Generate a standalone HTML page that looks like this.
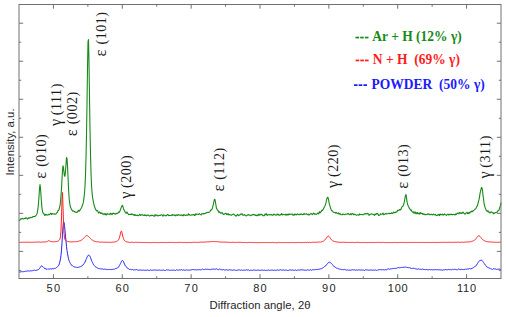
<!DOCTYPE html>
<html><head><meta charset="utf-8"><style>
html,body{margin:0;padding:0;background:#fff;overflow:hidden;}
svg{display:block;}
</style></head><body>
<svg width="506" height="317" viewBox="0 0 506 317">
<rect width="506" height="317" fill="#fff"/>
<g fill="none" stroke-linejoin="round">
<polyline points="19.00,271.88 19.50,272.06 20.00,271.69 20.50,271.91 21.00,271.72 21.50,271.64 22.00,271.98 22.50,271.74 23.00,271.61 23.50,271.68 24.00,271.75 24.50,271.53 25.00,271.55 25.50,271.25 26.00,271.24 26.50,271.20 27.00,271.00 27.50,270.88 28.00,270.80 28.50,270.99 29.00,271.03 29.50,270.99 30.00,271.02 30.50,270.74 31.00,270.85 31.50,270.91 32.00,270.99 32.50,270.68 33.00,270.64 33.50,270.29 34.00,270.42 34.50,270.11 35.00,270.10 35.50,270.50 36.00,269.96 36.50,270.26 37.00,270.17 37.50,269.90 38.00,269.79 38.50,269.54 39.00,269.25 39.50,268.53 40.00,267.77 40.50,267.02 41.00,266.27 41.50,265.98 42.00,265.89 42.50,266.60 43.00,266.77 43.50,267.39 44.00,267.94 44.50,268.15 45.00,269.09 45.50,268.69 46.00,269.01 46.50,269.09 47.00,269.51 47.50,268.97 48.00,269.34 48.50,269.10 49.00,269.10 49.50,268.97 50.00,269.12 50.50,268.84 51.00,268.91 51.50,268.97 52.00,269.21 52.50,268.47 53.00,268.89 53.50,268.85 54.00,268.49 54.50,268.42 55.00,268.15 55.50,268.31 56.00,267.93 56.50,267.53 57.00,267.16 57.50,266.74 58.00,266.23 58.50,265.44 59.00,265.04 59.50,263.23 60.00,260.98 60.50,258.88 61.00,255.26 61.50,250.08 62.00,242.93 62.50,234.37 63.00,226.10 63.50,221.64 64.00,222.16 64.50,225.43 65.00,230.74 65.50,236.11 66.00,241.17 66.50,246.50 67.00,250.53 67.50,253.69 68.00,256.30 68.50,258.74 69.00,260.37 69.50,261.67 70.00,262.69 70.50,263.67 71.00,264.68 71.50,265.06 72.00,265.27 72.50,265.95 73.00,266.25 73.50,266.64 74.00,266.96 74.50,266.92 75.00,267.00 75.50,267.12 76.00,267.02 76.50,267.35 77.00,267.59 77.50,267.46 78.00,267.33 78.50,267.26 79.00,267.10 79.50,266.97 80.00,266.91 80.50,266.68 81.00,266.53 81.50,266.07 82.00,266.03 82.50,265.65 83.00,264.95 83.50,264.08 84.00,263.71 84.50,263.18 85.00,261.98 85.50,260.88 86.00,259.67 86.50,258.65 87.00,257.21 87.50,256.39 88.00,255.43 88.50,255.19 89.00,255.16 89.50,255.62 90.00,256.30 90.50,257.54 91.00,258.91 91.50,260.38 92.00,261.58 92.50,262.50 93.00,263.63 93.50,264.63 94.00,265.21 94.50,265.74 95.00,266.26 95.50,266.92 96.00,267.32 96.50,267.38 97.00,267.81 97.50,267.93 98.00,268.05 98.50,268.56 99.00,268.73 99.50,268.59 100.00,268.76 100.50,268.96 101.00,268.86 101.50,268.98 102.00,269.20 102.50,268.86 103.00,269.18 103.50,269.38 104.00,269.42 104.50,269.13 105.00,269.36 105.50,269.24 106.00,269.47 106.50,269.56 107.00,269.53 107.50,269.35 108.00,269.34 108.50,269.60 109.00,269.36 109.50,269.53 110.00,269.59 110.50,269.45 111.00,269.88 111.50,269.57 112.00,269.83 112.50,269.14 113.00,268.86 113.50,269.31 114.00,269.34 114.50,269.12 115.00,269.02 115.50,268.57 116.00,268.54 116.50,268.31 117.00,268.18 117.50,268.09 118.00,267.59 118.50,267.08 119.00,266.22 119.50,265.39 120.00,264.51 120.50,263.38 121.00,262.51 121.50,261.19 122.00,260.90 122.50,260.33 123.00,260.99 123.50,261.60 124.00,263.06 124.50,264.04 125.00,265.09 125.50,266.08 126.00,266.63 126.50,267.12 127.00,267.40 127.50,268.32 128.00,268.45 128.50,268.65 129.00,268.94 129.50,269.48 130.00,269.06 130.50,269.35 131.00,269.38 131.50,269.61 132.00,269.30 132.50,269.49 133.00,269.81 133.50,270.06 134.00,270.16 134.50,269.78 135.00,269.85 135.50,269.86 136.00,269.65 136.50,269.59 137.00,269.98 137.50,270.02 138.00,269.97 138.50,270.21 139.00,269.89 139.50,270.08 140.00,270.05 140.50,270.04 141.00,270.14 141.50,270.12 142.00,270.14 142.50,270.15 143.00,270.46 143.50,270.15 144.00,270.30 144.50,270.28 145.00,270.10 145.50,270.26 146.00,270.01 146.50,270.30 147.00,270.04 147.50,270.02 148.00,270.17 148.50,270.30 149.00,270.36 149.50,270.38 150.00,270.19 150.50,270.00 151.00,270.21 151.50,270.23 152.00,270.02 152.50,270.30 153.00,270.25 153.50,270.02 154.00,270.21 154.50,269.95 155.00,269.95 155.50,270.18 156.00,269.90 156.50,270.10 157.00,269.91 157.50,270.23 158.00,270.07 158.50,270.18 159.00,269.91 159.50,270.04 160.00,270.31 160.50,270.31 161.00,269.89 161.50,270.26 162.00,270.37 162.50,270.17 163.00,270.44 163.50,270.07 164.00,270.13 164.50,270.37 165.00,270.47 165.50,270.50 166.00,270.08 166.50,269.83 167.00,270.14 167.50,269.91 168.00,270.07 168.50,269.91 169.00,270.28 169.50,270.35 170.00,270.32 170.50,270.22 171.00,270.19 171.50,270.12 172.00,270.22 172.50,270.22 173.00,270.26 173.50,270.11 174.00,270.48 174.50,270.30 175.00,270.44 175.50,270.47 176.00,270.08 176.50,269.81 177.00,270.26 177.50,270.10 178.00,270.13 178.50,270.07 179.00,270.12 179.50,269.90 180.00,270.02 180.50,269.99 181.00,270.06 181.50,269.66 182.00,270.10 182.50,270.14 183.00,269.78 183.50,269.84 184.00,270.00 184.50,270.14 185.00,270.07 185.50,270.29 186.00,270.11 186.50,269.86 187.00,269.84 187.50,270.08 188.00,269.90 188.50,270.10 189.00,270.19 189.50,270.13 190.00,270.18 190.50,269.97 191.00,269.93 191.50,269.80 192.00,269.75 192.50,269.56 193.00,269.67 193.50,269.60 194.00,269.50 194.50,269.74 195.00,269.86 195.50,269.74 196.00,270.00 196.50,269.98 197.00,269.99 197.50,269.67 198.00,269.41 198.50,269.68 199.00,269.70 199.50,269.77 200.00,269.71 200.50,269.83 201.00,269.57 201.50,269.65 202.00,269.38 202.50,269.02 203.00,269.23 203.50,269.63 204.00,269.16 204.50,269.49 205.00,269.27 205.50,269.23 206.00,269.29 206.50,269.32 207.00,269.11 207.50,269.23 208.00,269.31 208.50,269.40 209.00,269.14 209.50,269.46 210.00,269.62 210.50,269.76 211.00,269.13 211.50,269.21 212.00,268.87 212.50,269.18 213.00,269.31 213.50,269.05 214.00,268.91 214.50,269.19 215.00,269.37 215.50,269.18 216.00,269.23 216.50,268.86 217.00,269.09 217.50,269.33 218.00,269.42 218.50,269.72 219.00,269.33 219.50,269.04 220.00,269.45 220.50,269.41 221.00,269.57 221.50,269.71 222.00,269.75 222.50,269.93 223.00,269.98 223.50,269.47 224.00,269.62 224.50,270.05 225.00,269.76 225.50,269.93 226.00,269.82 226.50,269.73 227.00,270.07 227.50,270.09 228.00,269.88 228.50,270.03 229.00,269.69 229.50,269.70 230.00,270.01 230.50,269.96 231.00,269.75 231.50,269.97 232.00,270.02 232.50,270.22 233.00,270.23 233.50,270.01 234.00,269.92 234.50,269.96 235.00,269.96 235.50,270.28 236.00,270.40 236.50,270.40 237.00,270.23 237.50,270.07 238.00,270.24 238.50,270.06 239.00,270.12 239.50,269.80 240.00,269.94 240.50,270.31 241.00,269.99 241.50,269.81 242.00,270.00 242.50,270.39 243.00,270.47 243.50,270.17 244.00,270.07 244.50,270.10 245.00,269.97 245.50,270.11 246.00,270.09 246.50,269.88 247.00,269.98 247.50,270.07 248.00,269.99 248.50,269.92 249.00,270.27 249.50,270.55 250.00,270.25 250.50,270.13 251.00,270.27 251.50,270.18 252.00,270.05 252.50,270.41 253.00,270.08 253.50,270.04 254.00,270.04 254.50,270.00 255.00,270.11 255.50,270.29 256.00,270.50 256.50,270.42 257.00,270.29 257.50,270.02 258.00,270.15 258.50,270.03 259.00,270.15 259.50,270.38 260.00,270.31 260.50,270.22 261.00,270.09 261.50,270.19 262.00,270.24 262.50,270.07 263.00,270.09 263.50,270.35 264.00,269.97 264.50,270.08 265.00,269.98 265.50,270.44 266.00,270.41 266.50,270.38 267.00,270.36 267.50,270.33 268.00,270.32 268.50,269.98 269.00,270.21 269.50,270.34 270.00,270.02 270.50,270.32 271.00,270.39 271.50,270.01 272.00,270.09 272.50,270.14 273.00,270.12 273.50,270.28 274.00,270.02 274.50,270.14 275.00,270.25 275.50,270.38 276.00,270.29 276.50,270.21 277.00,270.36 277.50,269.92 278.00,270.31 278.50,270.21 279.00,270.01 279.50,270.09 280.00,269.87 280.50,269.76 281.00,270.04 281.50,270.04 282.00,270.31 282.50,270.10 283.00,269.96 283.50,269.98 284.00,270.46 284.50,270.31 285.00,270.14 285.50,270.02 286.00,269.97 286.50,270.12 287.00,270.27 287.50,270.44 288.00,270.49 288.50,270.35 289.00,270.14 289.50,270.04 290.00,269.74 290.50,269.89 291.00,270.19 291.50,270.14 292.00,270.25 292.50,269.97 293.00,270.29 293.50,270.28 294.00,270.22 294.50,270.27 295.00,269.81 295.50,269.97 296.00,269.95 296.50,270.43 297.00,270.22 297.50,270.09 298.00,270.29 298.50,270.01 299.00,270.36 299.50,270.08 300.00,270.11 300.50,269.96 301.00,270.23 301.50,269.76 302.00,270.14 302.50,269.97 303.00,270.07 303.50,269.88 304.00,270.07 304.50,270.11 305.00,270.19 305.50,270.16 306.00,270.20 306.50,270.27 307.00,270.03 307.50,269.81 308.00,269.72 308.50,270.04 309.00,269.93 309.50,270.14 310.00,270.01 310.50,269.77 311.00,270.03 311.50,270.28 312.00,269.96 312.50,269.70 313.00,269.63 313.50,269.89 314.00,269.68 314.50,269.63 315.00,269.78 315.50,269.67 316.00,269.63 316.50,269.45 317.00,269.34 317.50,269.41 318.00,269.37 318.50,269.38 319.00,269.12 319.50,269.11 320.00,269.05 320.50,268.85 321.00,268.77 321.50,268.69 322.00,268.36 322.50,268.06 323.00,267.58 323.50,267.44 324.00,267.06 324.50,266.61 325.00,266.06 325.50,265.78 326.00,265.67 326.50,264.84 327.00,264.13 327.50,263.59 328.00,262.91 328.50,262.59 329.00,262.24 329.50,262.15 330.00,262.43 330.50,262.78 331.00,263.17 331.50,263.56 332.00,264.28 332.50,264.66 333.00,265.49 333.50,265.89 334.00,266.40 334.50,266.98 335.00,267.36 335.50,267.37 336.00,267.76 336.50,268.15 337.00,268.16 337.50,268.05 338.00,268.56 338.50,268.81 339.00,269.06 339.50,269.14 340.00,269.24 340.50,269.35 341.00,269.64 341.50,269.61 342.00,269.65 342.50,269.54 343.00,269.81 343.50,269.68 344.00,269.84 344.50,269.40 345.00,269.71 345.50,269.76 346.00,269.73 346.50,270.05 347.00,270.01 347.50,269.91 348.00,269.82 348.50,270.24 349.00,270.18 349.50,270.15 350.00,269.90 350.50,270.20 351.00,270.17 351.50,270.01 352.00,270.00 352.50,269.73 353.00,270.07 353.50,269.86 354.00,270.15 354.50,270.01 355.00,269.94 355.50,270.10 356.00,270.12 356.50,269.89 357.00,270.02 357.50,270.18 358.00,270.07 358.50,269.85 359.00,269.98 359.50,269.89 360.00,269.93 360.50,270.06 361.00,270.08 361.50,270.05 362.00,269.79 362.50,270.07 363.00,270.05 363.50,270.01 364.00,270.09 364.50,270.44 365.00,269.96 365.50,269.76 366.00,270.12 366.50,269.95 367.00,270.27 367.50,269.95 368.00,269.94 368.50,270.17 369.00,270.25 369.50,270.18 370.00,270.16 370.50,270.04 371.00,269.95 371.50,269.96 372.00,270.22 372.50,270.19 373.00,270.05 373.50,270.05 374.00,270.14 374.50,270.22 375.00,270.00 375.50,269.93 376.00,269.98 376.50,270.39 377.00,270.08 377.50,270.16 378.00,269.67 378.50,269.93 379.00,269.60 379.50,269.54 380.00,269.59 380.50,269.67 381.00,269.74 381.50,269.78 382.00,269.75 382.50,269.60 383.00,270.08 383.50,269.81 384.00,269.75 384.50,269.96 385.00,269.80 385.50,269.66 386.00,269.55 386.50,269.76 387.00,269.27 387.50,269.11 388.00,269.23 388.50,268.84 389.00,268.91 389.50,269.24 390.00,269.01 390.50,269.01 391.00,269.07 391.50,268.71 392.00,268.81 392.50,268.63 393.00,268.44 393.50,268.48 394.00,268.48 394.50,268.36 395.00,268.22 395.50,268.42 396.00,268.45 396.50,268.30 397.00,268.08 397.50,267.78 398.00,267.68 398.50,267.55 399.00,267.69 399.50,267.81 400.00,267.80 400.50,267.59 401.00,267.42 401.50,267.43 402.00,267.40 402.50,267.45 403.00,267.61 403.50,267.27 404.00,267.66 404.50,267.04 405.00,266.92 405.50,266.96 406.00,267.08 406.50,267.29 407.00,267.81 407.50,267.51 408.00,267.79 408.50,267.66 409.00,267.76 409.50,267.64 410.00,268.24 410.50,268.06 411.00,267.96 411.50,268.50 412.00,268.34 412.50,268.39 413.00,268.36 413.50,268.28 414.00,268.19 414.50,268.44 415.00,268.88 415.50,268.84 416.00,268.77 416.50,269.00 417.00,268.76 417.50,269.13 418.00,269.03 418.50,268.89 419.00,269.15 419.50,269.23 420.00,269.13 420.50,269.22 421.00,269.41 421.50,269.57 422.00,269.24 422.50,268.84 423.00,269.58 423.50,269.41 424.00,269.35 424.50,269.50 425.00,269.40 425.50,269.65 426.00,269.34 426.50,269.44 427.00,269.30 427.50,269.76 428.00,269.60 428.50,269.80 429.00,269.92 429.50,269.50 430.00,269.56 430.50,269.75 431.00,269.70 431.50,269.66 432.00,269.83 432.50,269.90 433.00,269.66 433.50,269.67 434.00,269.82 434.50,269.79 435.00,269.77 435.50,269.55 436.00,270.00 436.50,269.78 437.00,269.81 437.50,269.76 438.00,269.77 438.50,269.79 439.00,269.62 439.50,269.79 440.00,269.99 440.50,269.90 441.00,269.94 441.50,269.91 442.00,269.82 442.50,270.11 443.00,269.75 443.50,269.83 444.00,269.97 444.50,269.88 445.00,269.61 445.50,269.52 446.00,269.97 446.50,269.65 447.00,269.73 447.50,269.84 448.00,269.79 448.50,269.44 449.00,269.31 449.50,269.59 450.00,269.55 450.50,269.63 451.00,269.71 451.50,269.74 452.00,269.48 452.50,269.34 453.00,269.76 453.50,269.60 454.00,269.45 454.50,269.25 455.00,269.64 455.50,269.43 456.00,269.39 456.50,269.68 457.00,269.70 457.50,269.74 458.00,269.42 458.50,269.03 459.00,269.24 459.50,269.41 460.00,269.39 460.50,269.65 461.00,269.62 461.50,269.35 462.00,269.54 462.50,269.46 463.00,269.35 463.50,269.59 464.00,269.15 464.50,269.48 465.00,269.57 465.50,269.01 466.00,269.15 466.50,269.17 467.00,268.97 467.50,268.98 468.00,268.90 468.50,268.99 469.00,268.86 469.50,268.48 470.00,268.90 470.50,268.90 471.00,268.50 471.50,268.59 472.00,268.70 472.50,267.95 473.00,267.76 473.50,267.48 474.00,267.36 474.50,266.89 475.00,266.24 475.50,266.16 476.00,265.45 476.50,264.97 477.00,264.62 477.50,263.45 478.00,262.62 478.50,262.07 479.00,261.24 479.50,260.69 480.00,260.14 480.50,260.36 481.00,260.09 481.50,260.18 482.00,260.53 482.50,261.14 483.00,261.48 483.50,262.37 484.00,263.34 484.50,263.78 485.00,264.60 485.50,265.24 486.00,265.73 486.50,266.74 487.00,267.01 487.50,267.26 488.00,267.34 488.50,267.70 489.00,267.88 489.50,268.10 490.00,268.32 490.50,268.88 491.00,268.91 491.50,269.05 492.00,269.08 492.50,269.40 493.00,268.90 493.50,268.68 494.00,268.91 494.50,269.01 495.00,269.03 495.50,268.93 496.00,269.16 496.50,269.43 497.00,269.26 497.50,269.14 498.00,269.37 498.50,269.18 499.00,269.13 499.50,269.24 500.00,268.81 500.50,269.45 501.00,269.29" stroke="#2222ff" stroke-width="1.0"/>
<polyline points="19.00,242.55 19.50,242.36 20.00,242.39 20.50,242.37 21.00,242.42 21.50,242.25 22.00,242.28 22.50,242.26 23.00,242.22 23.50,242.23 24.00,242.25 24.50,242.27 25.00,242.23 25.50,242.32 26.00,242.26 26.50,242.03 27.00,242.31 27.50,242.26 28.00,242.22 28.50,242.28 29.00,242.30 29.50,242.28 30.00,242.20 30.50,242.26 31.00,242.13 31.50,242.33 32.00,242.17 32.50,242.20 33.00,242.23 33.50,242.25 34.00,242.21 34.50,242.26 35.00,241.94 35.50,242.11 36.00,242.15 36.50,242.14 37.00,242.28 37.50,242.12 38.00,242.14 38.50,241.98 39.00,242.12 39.50,242.00 40.00,241.96 40.50,242.26 41.00,242.20 41.50,242.12 42.00,242.10 42.50,241.95 43.00,241.93 43.50,242.02 44.00,241.83 44.50,241.94 45.00,241.78 45.50,241.84 46.00,241.70 46.50,241.81 47.00,241.67 47.50,241.34 48.00,240.92 48.50,240.73 49.00,240.76 49.50,240.89 50.00,241.23 50.50,241.51 51.00,241.59 51.50,241.63 52.00,241.77 52.50,241.74 53.00,241.82 53.50,241.75 54.00,241.88 54.50,241.74 55.00,241.62 55.50,241.64 56.00,241.54 56.50,241.43 57.00,241.38 57.50,241.33 58.00,240.94 58.50,240.79 59.00,240.44 59.50,239.87 60.00,238.90 60.50,236.29 61.00,230.13 61.50,217.04 62.00,199.33 62.50,192.49 63.00,206.31 63.50,223.11 64.00,233.30 64.50,237.82 65.00,239.49 65.50,240.26 66.00,240.70 66.50,240.93 67.00,241.21 67.50,241.51 68.00,241.40 68.50,241.59 69.00,241.70 69.50,241.71 70.00,241.77 70.50,241.86 71.00,241.96 71.50,241.92 72.00,241.95 72.50,241.84 73.00,241.85 73.50,241.79 74.00,241.77 74.50,241.69 75.00,241.73 75.50,241.78 76.00,241.64 76.50,241.59 77.00,241.56 77.50,241.45 78.00,241.43 78.50,241.29 79.00,241.04 79.50,240.87 80.00,240.82 80.50,240.65 81.00,240.44 81.50,240.10 82.00,239.74 82.50,239.20 83.00,238.95 83.50,238.34 84.00,237.93 84.50,237.25 85.00,236.71 85.50,236.28 86.00,235.86 86.50,235.59 87.00,235.65 87.50,235.81 88.00,236.11 88.50,236.50 89.00,236.96 89.50,237.53 90.00,238.08 90.50,238.64 91.00,239.20 91.50,239.57 92.00,239.89 92.50,240.21 93.00,240.65 93.50,240.85 94.00,241.05 94.50,241.23 95.00,241.40 95.50,241.50 96.00,241.68 96.50,241.77 97.00,241.55 97.50,241.75 98.00,242.09 98.50,241.89 99.00,241.98 99.50,242.11 100.00,242.08 100.50,242.20 101.00,242.04 101.50,242.01 102.00,242.10 102.50,242.10 103.00,242.08 103.50,242.22 104.00,242.24 104.50,242.23 105.00,242.21 105.50,242.25 106.00,242.24 106.50,242.19 107.00,242.28 107.50,242.29 108.00,242.27 108.50,242.32 109.00,242.18 109.50,242.21 110.00,242.19 110.50,242.32 111.00,242.28 111.50,242.39 112.00,242.36 112.50,242.18 113.00,242.04 113.50,242.10 114.00,242.02 114.50,241.96 115.00,241.82 115.50,241.84 116.00,241.72 116.50,241.59 117.00,241.38 117.50,240.98 118.00,240.41 118.50,239.85 119.00,238.84 119.50,237.37 120.00,235.50 120.50,233.13 121.00,231.39 121.50,231.12 122.00,232.75 122.50,235.06 123.00,237.17 123.50,238.60 124.00,239.85 124.50,240.54 125.00,240.93 125.50,241.35 126.00,241.59 126.50,241.83 127.00,241.94 127.50,242.00 128.00,241.91 128.50,242.19 129.00,242.30 129.50,242.30 130.00,242.30 130.50,242.38 131.00,242.25 131.50,242.36 132.00,242.35 132.50,242.28 133.00,242.37 133.50,242.41 134.00,242.54 134.50,242.52 135.00,242.32 135.50,242.24 136.00,242.37 136.50,242.41 137.00,242.36 137.50,242.31 138.00,242.40 138.50,242.35 139.00,242.38 139.50,242.52 140.00,242.51 140.50,242.43 141.00,242.38 141.50,242.44 142.00,242.62 142.50,242.49 143.00,242.63 143.50,242.48 144.00,242.48 144.50,242.55 145.00,242.46 145.50,242.50 146.00,242.40 146.50,242.53 147.00,242.61 147.50,242.49 148.00,242.52 148.50,242.49 149.00,242.34 149.50,242.68 150.00,242.62 150.50,242.62 151.00,242.58 151.50,242.56 152.00,242.72 152.50,242.44 153.00,242.47 153.50,242.48 154.00,242.50 154.50,242.57 155.00,242.48 155.50,242.41 156.00,242.40 156.50,242.53 157.00,242.60 157.50,242.62 158.00,242.68 158.50,242.53 159.00,242.61 159.50,242.61 160.00,242.54 160.50,242.47 161.00,242.58 161.50,242.49 162.00,242.49 162.50,242.44 163.00,242.64 163.50,242.56 164.00,242.50 164.50,242.50 165.00,242.50 165.50,242.53 166.00,242.39 166.50,242.39 167.00,242.53 167.50,242.61 168.00,242.47 168.50,242.52 169.00,242.48 169.50,242.33 170.00,242.44 170.50,242.41 171.00,242.56 171.50,242.51 172.00,242.52 172.50,242.40 173.00,242.49 173.50,242.35 174.00,242.48 174.50,242.62 175.00,242.45 175.50,242.56 176.00,242.64 176.50,242.53 177.00,242.60 177.50,242.54 178.00,242.48 178.50,242.33 179.00,242.36 179.50,242.34 180.00,242.64 180.50,242.56 181.00,242.50 181.50,242.38 182.00,242.59 182.50,242.43 183.00,242.58 183.50,242.60 184.00,242.52 184.50,242.43 185.00,242.46 185.50,242.36 186.00,242.48 186.50,242.60 187.00,242.57 187.50,242.57 188.00,242.43 188.50,242.46 189.00,242.36 189.50,242.38 190.00,242.47 190.50,242.64 191.00,242.49 191.50,242.44 192.00,242.26 192.50,242.37 193.00,242.31 193.50,242.25 194.00,242.22 194.50,242.33 195.00,242.32 195.50,242.39 196.00,242.33 196.50,242.33 197.00,242.44 197.50,242.41 198.00,242.39 198.50,242.43 199.00,242.33 199.50,242.19 200.00,242.15 200.50,242.07 201.00,242.18 201.50,242.14 202.00,242.19 202.50,242.21 203.00,242.07 203.50,242.09 204.00,242.17 204.50,242.08 205.00,242.10 205.50,241.99 206.00,241.88 206.50,241.88 207.00,241.73 207.50,241.87 208.00,241.79 208.50,241.89 209.00,241.70 209.50,241.72 210.00,241.73 210.50,241.67 211.00,241.69 211.50,241.59 212.00,241.52 212.50,241.47 213.00,241.51 213.50,241.51 214.00,241.59 214.50,241.58 215.00,241.56 215.50,241.56 216.00,241.48 216.50,241.60 217.00,241.72 217.50,241.63 218.00,241.71 218.50,241.84 219.00,241.79 219.50,241.86 220.00,241.86 220.50,242.11 221.00,242.12 221.50,242.13 222.00,242.00 222.50,242.09 223.00,242.07 223.50,242.12 224.00,242.08 224.50,242.14 225.00,242.10 225.50,242.19 226.00,242.35 226.50,242.15 227.00,242.11 227.50,242.26 228.00,242.33 228.50,242.27 229.00,242.34 229.50,242.36 230.00,242.38 230.50,242.46 231.00,242.33 231.50,242.40 232.00,242.40 232.50,242.33 233.00,242.41 233.50,242.29 234.00,242.25 234.50,242.45 235.00,242.33 235.50,242.53 236.00,242.54 236.50,242.42 237.00,242.36 237.50,242.24 238.00,242.38 238.50,242.30 239.00,242.54 239.50,242.35 240.00,242.44 240.50,242.24 241.00,242.37 241.50,242.55 242.00,242.47 242.50,242.41 243.00,242.42 243.50,242.50 244.00,242.57 244.50,242.50 245.00,242.33 245.50,242.47 246.00,242.57 246.50,242.71 247.00,242.58 247.50,242.54 248.00,242.48 248.50,242.56 249.00,242.67 249.50,242.48 250.00,242.51 250.50,242.43 251.00,242.44 251.50,242.48 252.00,242.55 252.50,242.46 253.00,242.48 253.50,242.63 254.00,242.60 254.50,242.61 255.00,242.59 255.50,242.53 256.00,242.57 256.50,242.59 257.00,242.55 257.50,242.62 258.00,242.56 258.50,242.62 259.00,242.56 259.50,242.61 260.00,242.51 260.50,242.48 261.00,242.43 261.50,242.61 262.00,242.60 262.50,242.58 263.00,242.61 263.50,242.50 264.00,242.54 264.50,242.50 265.00,242.38 265.50,242.48 266.00,242.45 266.50,242.64 267.00,242.51 267.50,242.49 268.00,242.61 268.50,242.57 269.00,242.45 269.50,242.54 270.00,242.49 270.50,242.67 271.00,242.50 271.50,242.48 272.00,242.30 272.50,242.42 273.00,242.67 273.50,242.58 274.00,242.48 274.50,242.55 275.00,242.53 275.50,242.54 276.00,242.75 276.50,242.78 277.00,242.75 277.50,242.75 278.00,242.54 278.50,242.39 279.00,242.56 279.50,242.59 280.00,242.57 280.50,242.55 281.00,242.61 281.50,242.62 282.00,242.59 282.50,242.61 283.00,242.55 283.50,242.52 284.00,242.66 284.50,242.56 285.00,242.72 285.50,242.65 286.00,242.59 286.50,242.65 287.00,242.54 287.50,242.53 288.00,242.52 288.50,242.54 289.00,242.60 289.50,242.73 290.00,242.65 290.50,242.49 291.00,242.46 291.50,242.37 292.00,242.55 292.50,242.62 293.00,242.59 293.50,242.59 294.00,242.60 294.50,242.59 295.00,242.61 295.50,242.58 296.00,242.47 296.50,242.59 297.00,242.66 297.50,242.44 298.00,242.48 298.50,242.42 299.00,242.54 299.50,242.51 300.00,242.64 300.50,242.65 301.00,242.52 301.50,242.48 302.00,242.46 302.50,242.54 303.00,242.44 303.50,242.52 304.00,242.39 304.50,242.55 305.00,242.55 305.50,242.41 306.00,242.40 306.50,242.47 307.00,242.50 307.50,242.25 308.00,242.42 308.50,242.57 309.00,242.45 309.50,242.34 310.00,242.51 310.50,242.48 311.00,242.46 311.50,242.48 312.00,242.33 312.50,242.32 313.00,242.27 313.50,242.25 314.00,242.30 314.50,242.24 315.00,242.43 315.50,242.38 316.00,242.38 316.50,242.16 317.00,242.19 317.50,242.18 318.00,242.18 318.50,242.17 319.00,242.04 319.50,241.95 320.00,242.03 320.50,242.11 321.00,242.06 321.50,241.77 322.00,241.55 322.50,241.45 323.00,241.30 323.50,241.18 324.00,240.76 324.50,240.31 325.00,239.97 325.50,239.30 326.00,238.60 326.50,237.96 327.00,237.16 327.50,236.41 328.00,236.03 328.50,235.98 329.00,236.35 329.50,236.95 330.00,237.81 330.50,238.51 331.00,239.16 331.50,239.86 332.00,240.21 332.50,240.70 333.00,241.02 333.50,241.20 334.00,241.42 334.50,241.45 335.00,241.68 335.50,241.71 336.00,241.78 336.50,241.95 337.00,241.95 337.50,242.06 338.00,242.14 338.50,242.24 339.00,242.24 339.50,242.32 340.00,242.21 340.50,242.22 341.00,242.32 341.50,242.41 342.00,242.39 342.50,242.31 343.00,242.25 343.50,242.25 344.00,242.43 344.50,242.32 345.00,242.35 345.50,242.44 346.00,242.45 346.50,242.37 347.00,242.57 347.50,242.48 348.00,242.47 348.50,242.51 349.00,242.44 349.50,242.50 350.00,242.45 350.50,242.38 351.00,242.35 351.50,242.46 352.00,242.47 352.50,242.45 353.00,242.42 353.50,242.43 354.00,242.52 354.50,242.58 355.00,242.48 355.50,242.50 356.00,242.33 356.50,242.34 357.00,242.38 357.50,242.38 358.00,242.51 358.50,242.32 359.00,242.47 359.50,242.54 360.00,242.68 360.50,242.50 361.00,242.53 361.50,242.62 362.00,242.60 362.50,242.45 363.00,242.45 363.50,242.38 364.00,242.46 364.50,242.54 365.00,242.62 365.50,242.57 366.00,242.59 366.50,242.61 367.00,242.46 367.50,242.54 368.00,242.58 368.50,242.51 369.00,242.42 369.50,242.48 370.00,242.50 370.50,242.55 371.00,242.37 371.50,242.43 372.00,242.64 372.50,242.64 373.00,242.53 373.50,242.48 374.00,242.47 374.50,242.41 375.00,242.43 375.50,242.47 376.00,242.39 376.50,242.46 377.00,242.50 377.50,242.39 378.00,242.43 378.50,242.35 379.00,242.45 379.50,242.50 380.00,242.45 380.50,242.49 381.00,242.53 381.50,242.56 382.00,242.40 382.50,242.44 383.00,242.36 383.50,242.30 384.00,242.51 384.50,242.56 385.00,242.61 385.50,242.59 386.00,242.48 386.50,242.50 387.00,242.45 387.50,242.59 388.00,242.33 388.50,242.47 389.00,242.44 389.50,242.53 390.00,242.60 390.50,242.47 391.00,242.59 391.50,242.60 392.00,242.39 392.50,242.60 393.00,242.42 393.50,242.36 394.00,242.52 394.50,242.44 395.00,242.49 395.50,242.48 396.00,242.40 396.50,242.58 397.00,242.63 397.50,242.53 398.00,242.62 398.50,242.52 399.00,242.51 399.50,242.46 400.00,242.37 400.50,242.42 401.00,242.38 401.50,242.48 402.00,242.49 402.50,242.43 403.00,242.56 403.50,242.53 404.00,242.64 404.50,242.49 405.00,242.45 405.50,242.40 406.00,242.47 406.50,242.46 407.00,242.47 407.50,242.61 408.00,242.58 408.50,242.45 409.00,242.50 409.50,242.45 410.00,242.44 410.50,242.44 411.00,242.46 411.50,242.52 412.00,242.56 412.50,242.50 413.00,242.41 413.50,242.45 414.00,242.44 414.50,242.43 415.00,242.35 415.50,242.42 416.00,242.30 416.50,242.51 417.00,242.53 417.50,242.54 418.00,242.41 418.50,242.46 419.00,242.56 419.50,242.47 420.00,242.37 420.50,242.42 421.00,242.26 421.50,242.47 422.00,242.49 422.50,242.35 423.00,242.48 423.50,242.55 424.00,242.53 424.50,242.52 425.00,242.59 425.50,242.51 426.00,242.58 426.50,242.47 427.00,242.39 427.50,242.40 428.00,242.35 428.50,242.44 429.00,242.38 429.50,242.45 430.00,242.47 430.50,242.58 431.00,242.62 431.50,242.45 432.00,242.42 432.50,242.42 433.00,242.38 433.50,242.56 434.00,242.57 434.50,242.45 435.00,242.32 435.50,242.34 436.00,242.40 436.50,242.54 437.00,242.36 437.50,242.52 438.00,242.33 438.50,242.42 439.00,242.32 439.50,242.35 440.00,242.20 440.50,242.40 441.00,242.41 441.50,242.33 442.00,242.21 442.50,242.34 443.00,242.38 443.50,242.28 444.00,242.40 444.50,242.39 445.00,242.30 445.50,242.30 446.00,242.17 446.50,242.38 447.00,242.46 447.50,242.39 448.00,242.28 448.50,242.26 449.00,242.32 449.50,242.29 450.00,242.37 450.50,242.30 451.00,242.42 451.50,242.47 452.00,242.34 452.50,242.29 453.00,242.09 453.50,242.27 454.00,242.35 454.50,242.27 455.00,242.40 455.50,242.30 456.00,242.22 456.50,242.35 457.00,242.36 457.50,242.16 458.00,242.20 458.50,242.16 459.00,242.23 459.50,242.28 460.00,242.23 460.50,242.26 461.00,242.32 461.50,242.24 462.00,242.12 462.50,242.11 463.00,242.24 463.50,242.33 464.00,242.20 464.50,242.19 465.00,242.08 465.50,242.05 466.00,242.14 466.50,242.04 467.00,242.04 467.50,242.01 468.00,242.06 468.50,241.96 469.00,241.88 469.50,241.79 470.00,241.70 470.50,241.74 471.00,241.77 471.50,241.40 472.00,241.40 472.50,241.12 473.00,240.92 473.50,240.71 474.00,240.42 474.50,240.08 475.00,239.65 475.50,239.35 476.00,238.58 476.50,237.96 477.00,237.28 477.50,236.70 478.00,236.05 478.50,235.76 479.00,235.70 479.50,236.06 480.00,236.46 480.50,236.99 481.00,237.65 481.50,238.44 482.00,238.92 482.50,239.37 483.00,239.81 483.50,240.21 484.00,240.63 484.50,240.78 485.00,240.99 485.50,241.22 486.00,241.30 486.50,241.53 487.00,241.58 487.50,241.72 488.00,241.81 488.50,241.95 489.00,242.05 489.50,241.90 490.00,241.84 490.50,241.86 491.00,242.02 491.50,242.09 492.00,242.08 492.50,242.09 493.00,242.24 493.50,242.24 494.00,242.20 494.50,242.23 495.00,242.08 495.50,242.25 496.00,242.38 496.50,242.28 497.00,242.21 497.50,242.32 498.00,242.23 498.50,242.25 499.00,242.30 499.50,242.26 500.00,242.32 500.50,242.13 501.00,242.04" stroke="#ff2020" stroke-width="1.0"/>
<polyline points="19.00,220.32 19.50,220.47 20.00,219.82 20.50,219.19 21.00,218.78 21.50,219.09 22.00,218.64 22.50,218.25 23.00,218.80 23.50,218.86 24.00,218.99 24.50,218.30 25.00,218.44 25.50,218.37 26.00,217.63 26.50,218.25 27.00,218.26 27.50,219.12 28.00,218.31 28.50,217.83 29.00,218.22 29.50,217.78 30.00,217.88 30.50,217.29 31.00,217.32 31.50,217.62 32.00,217.48 32.50,217.10 33.00,216.34 33.50,216.69 34.00,216.50 34.50,216.58 35.00,216.18 35.50,216.21 36.00,215.38 36.50,214.75 37.00,213.95 37.50,211.42 38.00,208.31 38.50,203.03 39.00,196.76 39.50,188.28 40.00,184.60 40.50,188.34 41.00,195.71 41.50,202.29 42.00,208.35 42.50,211.10 43.00,213.18 43.50,213.27 44.00,213.92 44.50,215.03 45.00,215.54 45.50,214.53 46.00,214.24 46.50,214.74 47.00,215.21 47.50,215.06 48.00,215.00 48.50,214.29 49.00,214.63 49.50,214.79 50.00,214.00 50.50,213.35 51.00,213.58 51.50,214.42 52.00,213.58 52.50,214.06 53.00,213.76 53.50,213.99 54.00,213.93 54.50,213.92 55.00,214.45 55.50,213.97 56.00,214.04 56.50,213.17 57.00,212.47 57.50,212.29 58.00,210.33 58.50,210.40 59.00,209.66 59.50,207.55 60.00,205.74 60.50,201.77 61.00,195.37 61.50,188.58 62.00,179.22 62.50,170.38 63.00,165.71 63.50,167.95 64.00,172.57 64.50,176.07 65.00,176.08 65.50,170.70 66.00,164.44 66.50,157.50 67.00,158.39 67.50,165.90 68.00,176.98 68.50,187.48 69.00,196.49 69.50,201.80 70.00,204.77 70.50,207.02 71.00,208.11 71.50,209.48 72.00,210.06 72.50,211.11 73.00,210.71 73.50,211.22 74.00,211.25 74.50,211.39 75.00,212.10 75.50,212.06 76.00,212.22 76.50,212.48 77.00,212.45 77.50,211.17 78.00,211.49 78.50,210.35 79.00,210.52 79.50,211.16 80.00,210.03 80.50,209.16 81.00,208.59 81.50,207.67 82.00,206.55 82.50,204.78 83.00,203.70 83.50,201.44 84.00,197.69 84.50,193.03 85.00,186.03 85.50,175.26 86.00,158.52 86.50,135.01 87.00,103.67 87.50,68.50 88.00,41.73 88.50,39.54 89.00,63.01 89.50,97.05 90.00,128.81 90.50,154.19 91.00,172.72 91.50,184.75 92.00,191.69 92.50,196.88 93.00,199.80 93.50,202.31 94.00,204.82 94.50,206.42 95.00,208.07 95.50,209.32 96.00,210.00 96.50,210.85 97.00,210.62 97.50,210.59 98.00,211.57 98.50,213.07 99.00,212.66 99.50,212.03 100.00,212.62 100.50,213.46 101.00,212.72 101.50,213.43 102.00,213.09 102.50,213.92 103.00,214.02 103.50,213.90 104.00,214.68 104.50,213.88 105.00,213.56 105.50,214.64 106.00,213.77 106.50,214.92 107.00,214.28 107.50,213.66 108.00,213.96 108.50,214.12 109.00,214.20 109.50,214.05 110.00,214.58 110.50,213.20 111.00,213.57 111.50,213.79 112.00,214.78 112.50,213.33 113.00,213.61 113.50,213.29 114.00,213.36 114.50,213.91 115.00,213.90 115.50,214.28 116.00,213.38 116.50,213.39 117.00,213.67 117.50,213.48 118.00,212.67 118.50,212.86 119.00,211.67 119.50,212.11 120.00,210.86 120.50,209.48 121.00,208.06 121.50,206.61 122.00,205.84 122.50,205.38 123.00,206.77 123.50,208.99 124.00,209.91 124.50,210.40 125.00,212.07 125.50,212.31 126.00,213.28 126.50,212.78 127.00,211.95 127.50,213.26 128.00,213.71 128.50,214.60 129.00,214.47 129.50,214.41 130.00,214.58 130.50,214.27 131.00,214.42 131.50,213.87 132.00,214.59 132.50,214.25 133.00,214.34 133.50,214.92 134.00,215.21 134.50,214.46 135.00,215.61 135.50,214.81 136.00,215.23 136.50,215.43 137.00,215.17 137.50,215.09 138.00,215.81 138.50,215.63 139.00,215.38 139.50,214.30 140.00,214.47 140.50,215.39 141.00,215.23 141.50,214.68 142.00,214.66 142.50,214.81 143.00,215.31 143.50,215.33 144.00,215.62 144.50,214.89 145.00,215.49 145.50,215.00 146.00,214.95 146.50,215.85 147.00,215.38 147.50,215.15 148.00,215.05 148.50,214.94 149.00,215.79 149.50,215.96 150.00,215.72 150.50,215.41 151.00,215.70 151.50,215.29 152.00,215.40 152.50,215.42 153.00,215.28 153.50,215.94 154.00,216.19 154.50,216.07 155.00,214.58 155.50,215.82 156.00,215.68 156.50,215.13 157.00,215.15 157.50,215.68 158.00,215.86 158.50,215.76 159.00,215.42 159.50,215.26 160.00,215.58 160.50,215.25 161.00,214.79 161.50,214.78 162.00,214.99 162.50,215.27 163.00,216.22 163.50,214.87 164.00,215.29 164.50,215.16 165.00,215.30 165.50,215.82 166.00,215.92 166.50,215.32 167.00,214.96 167.50,214.48 168.00,214.92 168.50,215.65 169.00,215.18 169.50,215.48 170.00,215.56 170.50,215.45 171.00,215.72 171.50,215.26 172.00,214.80 172.50,214.51 173.00,215.36 173.50,215.03 174.00,214.96 174.50,215.45 175.00,214.86 175.50,215.83 176.00,215.62 176.50,215.02 177.00,214.79 177.50,215.49 178.00,214.68 178.50,214.67 179.00,214.96 179.50,215.13 180.00,215.09 180.50,215.24 181.00,214.95 181.50,214.96 182.00,215.59 182.50,215.49 183.00,214.96 183.50,215.77 184.00,214.34 184.50,214.84 185.00,215.25 185.50,215.50 186.00,215.18 186.50,214.86 187.00,215.19 187.50,214.93 188.00,215.15 188.50,213.70 189.00,214.72 189.50,214.49 190.00,215.19 190.50,215.30 191.00,215.31 191.50,214.80 192.00,215.00 192.50,214.71 193.00,214.85 193.50,214.72 194.00,214.34 194.50,215.49 195.00,215.25 195.50,213.91 196.00,214.82 196.50,214.04 197.00,214.30 197.50,214.20 198.00,214.16 198.50,214.47 199.00,214.28 199.50,213.68 200.00,214.12 200.50,214.37 201.00,215.04 201.50,214.21 202.00,213.56 202.50,213.68 203.00,214.12 203.50,213.49 204.00,213.31 204.50,213.74 205.00,213.53 205.50,213.48 206.00,212.97 206.50,212.62 207.00,212.60 207.50,212.53 208.00,212.27 208.50,212.35 209.00,212.23 209.50,211.97 210.00,211.60 210.50,210.58 211.00,209.81 211.50,209.99 212.00,209.06 212.50,207.93 213.00,205.74 213.50,203.82 214.00,201.19 214.50,199.20 215.00,199.74 215.50,202.26 216.00,205.74 216.50,208.44 217.00,209.11 217.50,210.16 218.00,210.30 218.50,211.46 219.00,212.61 219.50,211.79 220.00,212.21 220.50,213.25 221.00,213.25 221.50,213.27 222.00,212.43 222.50,213.14 223.00,213.92 223.50,214.48 224.00,214.36 224.50,213.84 225.00,213.70 225.50,213.20 226.00,213.43 226.50,214.54 227.00,214.35 227.50,213.78 228.00,214.83 228.50,213.83 229.00,214.88 229.50,214.51 230.00,214.71 230.50,214.95 231.00,214.85 231.50,215.29 232.00,214.87 232.50,214.61 233.00,214.39 233.50,213.99 234.00,214.21 234.50,215.05 235.00,215.24 235.50,215.56 236.00,216.26 236.50,215.58 237.00,215.28 237.50,214.38 238.00,214.60 238.50,215.77 239.00,215.38 239.50,214.96 240.00,215.04 240.50,214.08 241.00,214.27 241.50,214.12 242.00,213.70 242.50,214.89 243.00,215.34 243.50,214.96 244.00,215.09 244.50,214.52 245.00,215.01 245.50,215.29 246.00,215.73 246.50,215.87 247.00,215.43 247.50,215.03 248.00,214.59 248.50,214.56 249.00,215.10 249.50,215.25 250.00,215.04 250.50,215.72 251.00,215.47 251.50,215.11 252.00,214.91 252.50,214.97 253.00,214.53 253.50,214.38 254.00,214.93 254.50,214.68 255.00,214.75 255.50,215.44 256.00,215.01 256.50,215.56 257.00,215.13 257.50,215.68 258.00,215.38 258.50,214.28 259.00,215.30 259.50,214.96 260.00,214.06 260.50,214.73 261.00,214.95 261.50,214.36 262.00,214.49 262.50,215.05 263.00,215.61 263.50,215.65 264.00,215.70 264.50,215.67 265.00,214.03 265.50,214.33 266.00,214.83 266.50,213.69 267.00,214.90 267.50,215.32 268.00,214.69 268.50,214.68 269.00,214.42 269.50,214.76 270.00,214.85 270.50,214.89 271.00,214.44 271.50,214.94 272.00,214.76 272.50,215.29 273.00,215.16 273.50,214.31 274.00,214.07 274.50,214.68 275.00,214.61 275.50,215.02 276.00,215.29 276.50,215.01 277.00,214.16 277.50,214.12 278.00,214.91 278.50,214.41 279.00,215.23 279.50,214.93 280.00,215.12 280.50,214.54 281.00,214.71 281.50,213.48 282.00,214.34 282.50,214.95 283.00,214.47 283.50,214.35 284.00,214.66 284.50,214.81 285.00,214.45 285.50,215.01 286.00,214.13 286.50,215.11 287.00,214.26 287.50,214.27 288.00,215.24 288.50,214.47 289.00,213.95 289.50,214.56 290.00,214.30 290.50,214.12 291.00,214.25 291.50,214.27 292.00,214.16 292.50,214.10 293.00,215.27 293.50,214.59 294.00,215.12 294.50,214.20 295.00,214.80 295.50,214.16 296.00,214.32 296.50,214.86 297.00,214.49 297.50,213.72 298.00,214.12 298.50,214.41 299.00,214.82 299.50,214.23 300.00,214.36 300.50,214.55 301.00,213.83 301.50,214.30 302.00,214.10 302.50,214.61 303.00,214.50 303.50,214.43 304.00,213.39 304.50,214.10 305.00,214.18 305.50,213.93 306.00,214.04 306.50,213.72 307.00,214.25 307.50,214.61 308.00,214.67 308.50,214.17 309.00,214.99 309.50,214.84 310.00,213.96 310.50,214.03 311.00,213.35 311.50,213.80 312.00,214.27 312.50,214.63 313.00,213.93 313.50,213.07 314.00,213.49 314.50,214.25 315.00,213.88 315.50,214.21 316.00,214.05 316.50,214.25 317.00,213.80 317.50,213.00 318.00,213.16 318.50,214.03 319.00,212.79 319.50,211.67 320.00,212.95 320.50,212.38 321.00,211.52 321.50,211.00 322.00,210.12 322.50,210.48 323.00,209.88 323.50,208.78 324.00,207.84 324.50,206.70 325.00,205.98 325.50,203.98 326.00,202.72 326.50,199.98 327.00,198.19 327.50,197.27 328.00,197.47 328.50,199.31 329.00,202.21 329.50,204.78 330.00,205.80 330.50,208.15 331.00,209.08 331.50,210.60 332.00,210.72 332.50,210.81 333.00,211.85 333.50,212.33 334.00,212.18 334.50,212.53 335.00,212.82 335.50,213.12 336.00,212.41 336.50,212.52 337.00,213.20 337.50,213.58 338.00,213.40 338.50,212.85 339.00,214.14 339.50,213.83 340.00,213.44 340.50,214.56 341.00,214.72 341.50,214.75 342.00,214.70 342.50,214.59 343.00,213.89 343.50,214.15 344.00,214.39 344.50,214.61 345.00,214.62 345.50,213.97 346.00,213.97 346.50,214.11 347.00,214.22 347.50,213.96 348.00,213.46 348.50,213.60 349.00,214.33 349.50,214.41 350.00,214.71 350.50,213.70 351.00,214.06 351.50,214.76 352.00,213.69 352.50,213.77 353.00,213.54 353.50,214.77 354.00,214.61 354.50,214.29 355.00,214.52 355.50,214.49 356.00,214.92 356.50,215.18 357.00,215.14 357.50,214.87 358.00,214.98 358.50,215.04 359.00,215.21 359.50,213.91 360.00,214.50 360.50,214.56 361.00,214.61 361.50,214.44 362.00,214.47 362.50,214.73 363.00,214.68 363.50,214.63 364.00,214.07 364.50,213.82 365.00,213.97 365.50,213.54 366.00,213.98 366.50,213.96 367.00,213.52 367.50,213.32 368.00,213.92 368.50,214.05 369.00,215.32 369.50,215.11 370.00,214.30 370.50,214.17 371.00,213.90 371.50,213.91 372.00,214.11 372.50,214.29 373.00,214.08 373.50,214.66 374.00,214.75 374.50,215.36 375.00,214.06 375.50,214.56 376.00,214.22 376.50,213.56 377.00,213.93 377.50,213.43 378.00,214.00 378.50,215.40 379.00,215.16 379.50,215.30 380.00,215.05 380.50,213.72 381.00,214.19 381.50,214.19 382.00,214.31 382.50,213.66 383.00,213.02 383.50,214.64 384.00,214.69 384.50,214.28 385.00,213.78 385.50,213.90 386.00,213.26 386.50,214.03 387.00,213.87 387.50,213.64 388.00,213.41 388.50,213.46 389.00,213.52 389.50,213.25 390.00,213.73 390.50,213.48 391.00,213.20 391.50,212.71 392.00,213.43 392.50,213.60 393.00,213.30 393.50,211.98 394.00,212.16 394.50,212.71 395.00,212.34 395.50,212.66 396.00,211.85 396.50,212.02 397.00,211.79 397.50,210.21 398.00,210.46 398.50,210.41 399.00,210.00 399.50,209.51 400.00,210.22 400.50,209.37 401.00,209.21 401.50,207.83 402.00,206.65 402.50,206.48 403.00,206.11 403.50,204.51 404.00,203.24 404.50,201.19 405.00,197.96 405.50,195.53 406.00,194.53 406.50,197.60 407.00,201.59 407.50,204.01 408.00,205.41 408.50,206.48 409.00,207.53 409.50,208.82 410.00,208.86 410.50,210.22 411.00,209.72 411.50,210.40 412.00,211.45 412.50,212.20 413.00,211.64 413.50,212.20 414.00,213.31 414.50,213.18 415.00,211.76 415.50,212.57 416.00,213.87 416.50,212.77 417.00,213.46 417.50,212.40 418.00,213.81 418.50,213.21 419.00,213.84 419.50,214.13 420.00,212.61 420.50,212.81 421.00,213.71 421.50,213.19 422.00,213.75 422.50,213.54 423.00,214.54 423.50,214.03 424.00,213.73 424.50,214.37 425.00,214.85 425.50,214.39 426.00,214.48 426.50,214.62 427.00,214.24 427.50,213.83 428.00,214.50 428.50,214.32 429.00,213.82 429.50,214.69 430.00,214.77 430.50,214.68 431.00,214.26 431.50,214.38 432.00,214.81 432.50,214.89 433.00,214.33 433.50,214.14 434.00,214.65 434.50,214.74 435.00,215.07 435.50,214.28 436.00,214.98 436.50,215.58 437.00,215.39 437.50,214.98 438.00,215.21 438.50,214.29 439.00,214.40 439.50,215.56 440.00,214.25 440.50,214.07 441.00,214.91 441.50,214.49 442.00,214.40 442.50,214.13 443.00,215.30 443.50,214.62 444.00,214.56 444.50,213.84 445.00,214.79 445.50,214.71 446.00,214.91 446.50,215.45 447.00,214.96 447.50,214.20 448.00,214.05 448.50,214.48 449.00,215.16 449.50,214.21 450.00,214.34 450.50,214.41 451.00,214.78 451.50,214.17 452.00,214.51 452.50,214.80 453.00,214.49 453.50,214.35 454.00,214.59 454.50,214.61 455.00,214.88 455.50,213.87 456.00,214.55 456.50,214.04 457.00,213.41 457.50,213.41 458.00,213.03 458.50,213.30 459.00,213.85 459.50,212.47 460.00,212.48 460.50,213.32 461.00,213.08 461.50,213.50 462.00,212.69 462.50,213.05 463.00,212.03 463.50,212.54 464.00,213.41 464.50,213.90 465.00,214.22 465.50,213.54 466.00,212.94 466.50,212.95 467.00,212.22 467.50,213.42 468.00,213.63 468.50,212.68 469.00,213.55 469.50,212.28 470.00,212.65 470.50,212.02 471.00,211.27 471.50,211.85 472.00,211.15 472.50,211.79 473.00,210.82 473.50,210.71 474.00,210.12 474.50,209.87 475.00,209.05 475.50,208.98 476.00,208.32 476.50,207.22 477.00,206.02 477.50,205.68 478.00,203.26 478.50,201.31 479.00,199.71 479.50,197.08 480.00,193.62 480.50,191.38 481.00,189.11 481.50,187.43 482.00,187.93 482.50,190.43 483.00,195.10 483.50,198.92 484.00,203.31 484.50,205.26 485.00,207.25 485.50,208.59 486.00,209.81 486.50,210.28 487.00,211.22 487.50,211.53 488.00,210.72 488.50,211.93 489.00,211.74 489.50,212.83 490.00,212.94 490.50,212.80 491.00,211.86 491.50,211.80 492.00,212.25 492.50,212.77 493.00,212.47 493.50,213.88 494.00,213.59 494.50,213.20 495.00,212.60 495.50,212.61 496.00,212.52 496.50,212.23 497.00,212.08 497.50,212.13 498.00,210.61 498.50,210.55 499.00,210.27 499.50,208.21 500.00,207.01 500.50,205.14 501.00,202.56" stroke="#178a17" stroke-width="1.1"/>
</g>
<g stroke="#707070" stroke-width="1" fill="none">
<rect x="19.0" y="4.5" width="482.0" height="274.0"/>
<line x1="53.43" y1="278.50" x2="53.43" y2="274.30"/><line x1="53.43" y1="4.50" x2="53.43" y2="8.70"/><line x1="87.86" y1="278.50" x2="87.86" y2="276.30"/><line x1="87.86" y1="4.50" x2="87.86" y2="6.70"/><line x1="122.29" y1="278.50" x2="122.29" y2="274.30"/><line x1="122.29" y1="4.50" x2="122.29" y2="8.70"/><line x1="156.71" y1="278.50" x2="156.71" y2="276.30"/><line x1="156.71" y1="4.50" x2="156.71" y2="6.70"/><line x1="191.14" y1="278.50" x2="191.14" y2="274.30"/><line x1="191.14" y1="4.50" x2="191.14" y2="8.70"/><line x1="225.57" y1="278.50" x2="225.57" y2="276.30"/><line x1="225.57" y1="4.50" x2="225.57" y2="6.70"/><line x1="260.00" y1="278.50" x2="260.00" y2="274.30"/><line x1="260.00" y1="4.50" x2="260.00" y2="8.70"/><line x1="294.43" y1="278.50" x2="294.43" y2="276.30"/><line x1="294.43" y1="4.50" x2="294.43" y2="6.70"/><line x1="328.86" y1="278.50" x2="328.86" y2="274.30"/><line x1="328.86" y1="4.50" x2="328.86" y2="8.70"/><line x1="363.29" y1="278.50" x2="363.29" y2="276.30"/><line x1="363.29" y1="4.50" x2="363.29" y2="6.70"/><line x1="397.71" y1="278.50" x2="397.71" y2="274.30"/><line x1="397.71" y1="4.50" x2="397.71" y2="8.70"/><line x1="432.14" y1="278.50" x2="432.14" y2="276.30"/><line x1="432.14" y1="4.50" x2="432.14" y2="6.70"/><line x1="466.57" y1="278.50" x2="466.57" y2="274.30"/><line x1="466.57" y1="4.50" x2="466.57" y2="8.70"/>
<line x1="19.00" y1="23.20" x2="23.20" y2="23.20"/><line x1="501.00" y1="23.20" x2="496.80" y2="23.20"/><line x1="19.00" y1="42.22" x2="21.20" y2="42.22"/><line x1="501.00" y1="42.22" x2="498.80" y2="42.22"/><line x1="19.00" y1="61.23" x2="23.20" y2="61.23"/><line x1="501.00" y1="61.23" x2="496.80" y2="61.23"/><line x1="19.00" y1="80.25" x2="21.20" y2="80.25"/><line x1="501.00" y1="80.25" x2="498.80" y2="80.25"/><line x1="19.00" y1="99.26" x2="23.20" y2="99.26"/><line x1="501.00" y1="99.26" x2="496.80" y2="99.26"/><line x1="19.00" y1="118.28" x2="21.20" y2="118.28"/><line x1="501.00" y1="118.28" x2="498.80" y2="118.28"/><line x1="19.00" y1="137.29" x2="23.20" y2="137.29"/><line x1="501.00" y1="137.29" x2="496.80" y2="137.29"/><line x1="19.00" y1="156.31" x2="21.20" y2="156.31"/><line x1="501.00" y1="156.31" x2="498.80" y2="156.31"/><line x1="19.00" y1="175.32" x2="23.20" y2="175.32"/><line x1="501.00" y1="175.32" x2="496.80" y2="175.32"/><line x1="19.00" y1="194.33" x2="21.20" y2="194.33"/><line x1="501.00" y1="194.33" x2="498.80" y2="194.33"/><line x1="19.00" y1="213.35" x2="23.20" y2="213.35"/><line x1="501.00" y1="213.35" x2="496.80" y2="213.35"/><line x1="19.00" y1="232.36" x2="21.20" y2="232.36"/><line x1="501.00" y1="232.36" x2="498.80" y2="232.36"/><line x1="19.00" y1="251.38" x2="23.20" y2="251.38"/><line x1="501.00" y1="251.38" x2="496.80" y2="251.38"/><line x1="19.00" y1="270.39" x2="21.20" y2="270.39"/><line x1="501.00" y1="270.39" x2="498.80" y2="270.39"/>
</g>
<g font-family="'Liberation Sans', sans-serif" font-size="11" fill="#262626">
<text x="54.03" y="292.0" text-anchor="middle" letter-spacing="1.3">50</text><text x="122.89" y="292.0" text-anchor="middle" letter-spacing="1.3">60</text><text x="191.74" y="292.0" text-anchor="middle" letter-spacing="1.3">70</text><text x="260.60" y="292.0" text-anchor="middle" letter-spacing="1.3">80</text><text x="329.46" y="292.0" text-anchor="middle" letter-spacing="1.3">90</text><text x="398.11" y="292.0" text-anchor="middle" letter-spacing="0.8">100</text><text x="466.97" y="292.0" text-anchor="middle" letter-spacing="0.8">110</text>
<text x="260.0" y="308.7" text-anchor="middle" font-size="11.3" textLength="101" lengthAdjust="spacing">Diffraction angle, 2θ</text>
<text transform="translate(13.8,141.9) rotate(-90)" text-anchor="middle" font-size="11.3" textLength="67" lengthAdjust="spacing">Intensity, a.u.</text>
</g>
<g font-family="'Liberation Serif', serif" font-size="14" fill="#1a1a1a">
<text transform="translate(46.00,178.70) rotate(-90)"><tspan font-size="16.5">ε</tspan><tspan dx="4.90" letter-spacing="0.55">(010)</tspan></text><text transform="translate(60.50,126.00) rotate(-90)"><tspan font-size="16">γ</tspan><tspan dx="3.75" letter-spacing="0.55">(111)</tspan></text><text transform="translate(77.20,136.20) rotate(-90)"><tspan font-size="16.5">ε</tspan><tspan dx="4.90" letter-spacing="0.55">(002)</tspan></text><text transform="translate(105.90,56.40) rotate(-90)"><tspan font-size="16.5">ε</tspan><tspan dx="4.90" letter-spacing="0.55">(101)</tspan></text><text transform="translate(131.20,198.80) rotate(-90)"><tspan font-size="16">γ</tspan><tspan dx="3.75" letter-spacing="0.55">(200)</tspan></text><text transform="translate(223.80,191.60) rotate(-90)"><tspan font-size="16.5">ε</tspan><tspan dx="4.90" letter-spacing="0.55">(112)</tspan></text><text transform="translate(338.20,187.90) rotate(-90)"><tspan font-size="16">γ</tspan><tspan dx="3.75" letter-spacing="0.55">(220)</tspan></text><text transform="translate(408.00,188.70) rotate(-90)"><tspan font-size="16.5">ε</tspan><tspan dx="4.90" letter-spacing="0.55">(013)</tspan></text><text transform="translate(489.70,178.50) rotate(-90)"><tspan font-size="16">γ</tspan><tspan dx="3.75" letter-spacing="0.55">(311)</tspan></text>
</g>
<g font-family="'Liberation Serif', serif" font-size="13.5" font-weight="bold" style="white-space:pre">
<text transform="translate(372.3,41.1) scale(1,1.08)" fill="#168a16">Ar + H (12% γ)</text>
<text transform="translate(372.8,64.0) scale(1,1.08)" fill="#ff1a1a">N + H &#160;(69% γ)</text>
<text transform="translate(371.6,88.8) scale(1,1.08)" fill="#1a1aff">POWDER &#160;(50% γ)</text>
</g>
<g>
<rect x="355.50" y="36.70" width="3.6" height="1.7" fill="#168a16"/><rect x="360.20" y="36.70" width="3.6" height="1.7" fill="#168a16"/><rect x="364.90" y="36.70" width="3.6" height="1.7" fill="#168a16"/><rect x="355.60" y="59.60" width="3.6" height="1.7" fill="#ff1a1a"/><rect x="360.30" y="59.60" width="3.6" height="1.7" fill="#ff1a1a"/><rect x="365.00" y="59.60" width="3.6" height="1.7" fill="#ff1a1a"/><rect x="354.00" y="84.30" width="3.6" height="1.7" fill="#1a1aff"/><rect x="358.70" y="84.30" width="3.6" height="1.7" fill="#1a1aff"/><rect x="363.40" y="84.30" width="3.6" height="1.7" fill="#1a1aff"/>
</g>
</svg>
</body></html>
